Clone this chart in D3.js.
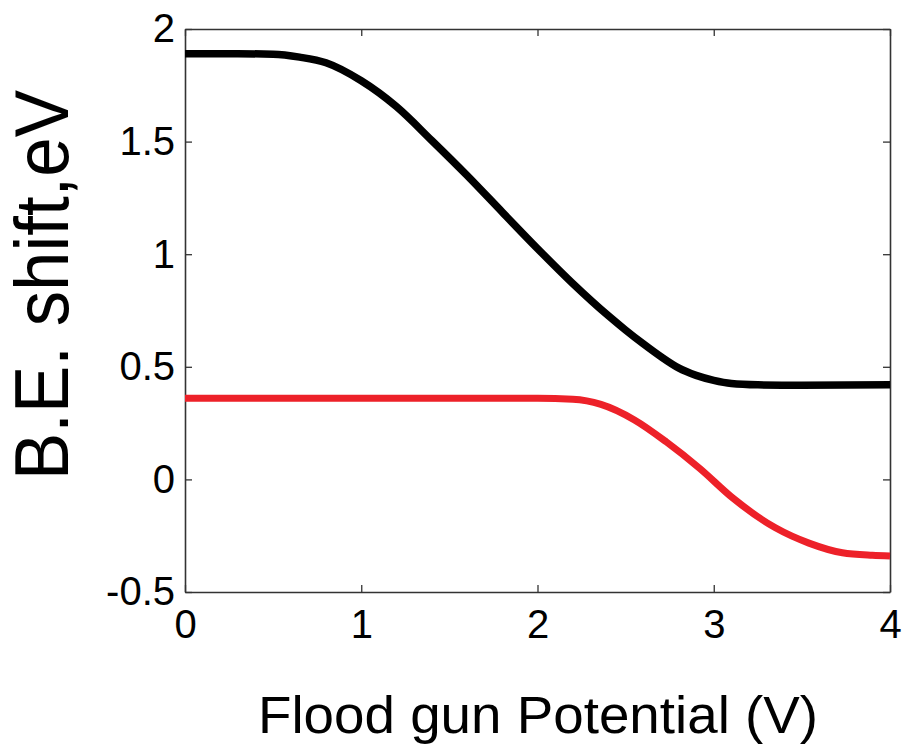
<!DOCTYPE html>
<html>
<head>
<meta charset="utf-8">
<script src="https://cdn.jsdelivr.net/npm/d3@7"></script>
<style>
  body { margin: 0; background: #fff; overflow: hidden; }
  svg { display: block; }
  svg text { font-family: "Liberation Sans", Arial, Helvetica, sans-serif; fill: #000; }
</style>
</head>
<body>
<div class="svg-container"></div>
<script>
// black curve (upper)
const blackX = [0, 0.3, 0.5, 0.65, 0.8, 1.0, 1.2, 1.4, 1.6, 1.8, 2.0, 2.2, 2.4, 2.5, 2.6, 2.7, 2.8, 2.9, 3.0, 3.1, 3.25, 3.5, 4.0];
const blackY = [1.89, 1.89, 1.888, 1.875, 1.85, 1.77, 1.655, 1.505, 1.35, 1.187, 1.025, 0.87, 0.728, 0.663, 0.602, 0.545, 0.495, 0.462, 0.44, 0.426, 0.42, 0.418, 0.42];
// red curve (lower)
const redX = [0, 1.0, 2.0, 2.2, 2.36, 2.55, 2.73, 2.92, 3.11, 3.35, 3.54, 3.73, 3.9, 4.0];
const redY = [0.36, 0.36, 0.36, 0.356, 0.333, 0.264, 0.167, 0.049, -0.084, -0.215, -0.283, -0.326, -0.337, -0.34];

const xTicks = [0, 1, 2, 3, 4];
const yTicks = [-0.5, 0, 0.5, 1, 1.5, 2];

const outerWidth = 903;
const outerHeight = 746;
const margin = { left: 185, top: 29, right: 13, bottom: 154 };
const innerWidth = outerWidth - margin.left - margin.right;
const innerHeight = outerHeight - margin.top - margin.bottom;

const svg = d3.select('.svg-container')
  .append('svg')
  .attr('width', outerWidth)
  .attr('height', outerHeight);

const xScale = d3.scaleLinear().domain([0, 4]).range([margin.left, margin.left + innerWidth]);
const yScale = d3.scaleLinear().domain([-0.5, 2]).range([margin.top + innerHeight, margin.top]);

// plain hyphen for negatives, like the original
const fmt = d => String(d);

// axes: ticks point inwards, box on all four sides
const styleAxis = g => {
  g.select('.domain').attr('stroke', '#333').attr('stroke-width', 1.6);
  g.selectAll('.tick line').attr('stroke', '#333').attr('stroke-width', 1.3);
  g.selectAll('text').style('font-size', '40px').attr('fill', '#000');
};

svg.append('g')
  .attr('transform', `translate(0, ${margin.top + innerHeight})`)
  .call(d3.axisBottom(xScale).tickValues(xTicks).tickFormat(fmt).tickSizeInner(-7).tickSizeOuter(0).tickPadding(18))
  .call(styleAxis);

svg.append('g')
  .attr('transform', `translate(0, ${margin.top})`)
  .call(d3.axisTop(xScale).tickValues(xTicks).tickFormat('').tickSizeInner(-7).tickSizeOuter(0))
  .call(styleAxis)
  .call(g => g.selectAll('text').remove());

svg.append('g')
  .attr('transform', `translate(${margin.left}, 0)`)
  .call(d3.axisLeft(yScale).tickValues(yTicks).tickFormat(fmt).tickSizeInner(-7).tickSizeOuter(0).tickPadding(10))
  .call(styleAxis);

svg.append('g')
  .attr('transform', `translate(${margin.left + innerWidth}, 0)`)
  .call(d3.axisRight(yScale).tickValues(yTicks).tickFormat('').tickSizeInner(-7).tickSizeOuter(0))
  .call(styleAxis)
  .call(g => g.selectAll('text').remove());

const line = d3.line()
  .x(d => xScale(d[0]))
  .y(d => yScale(d[1]))
  .curve(d3.curveMonotoneX);

svg.append('path')
  .datum(redX.map((x, i) => [x, redY[i]]))
  .attr('d', line)
  .attr('fill', 'none')
  .attr('stroke', '#ed2129')
  .attr('stroke-width', 7);

svg.append('path')
  .datum(blackX.map((x, i) => [x, blackY[i]]))
  .attr('d', line)
  .attr('fill', 'none')
  .attr('stroke', '#000')
  .attr('stroke-width', 7.5);

// axis titles
svg.append('text')
  .text('Flood gun Potential (V)')
  .attr('x', 538)
  .attr('y', 733)
  .attr('text-anchor', 'middle')
  .attr('textLength', 560)
  .attr('lengthAdjust', 'spacingAndGlyphs')
  .style('font-size', '51px');

svg.append('text')
  .text('B.E. shift,eV')
  .attr('transform', 'translate(68, 285) rotate(-90)')
  .attr('text-anchor', 'middle')
  .attr('textLength', 390)
  .attr('lengthAdjust', 'spacingAndGlyphs')
  .style('font-size', '76px');
</script>
</body>
</html>
